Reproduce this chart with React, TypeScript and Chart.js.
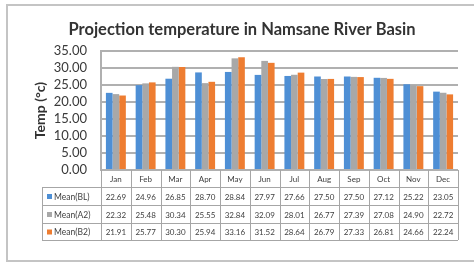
import React, { useEffect, useRef } from "react";
import { Chart, registerables } from "chart.js";

Chart.register(...registerables);

const categories = ["Jan", "Feb", "Mar", "Apr", "May", "Jun", "Jul", "Aug", "Sep", "Oct", "Nov", "Dec"];
const seriesNames = ["Mean(BL)", "Mean(A2)", "Mean(B2)"];
const meanBL = [22.69, 24.96, 26.85, 28.7, 28.84, 27.97, 27.66, 27.5, 27.5, 27.12, 25.22, 23.05];
const meanA2 = [22.32, 25.48, 30.34, 25.55, 32.84, 32.09, 28.01, 26.77, 27.39, 27.08, 24.9, 22.72];
const meanB2 = [21.91, 25.77, 30.3, 25.94, 33.16, 31.52, 28.64, 26.79, 27.33, 26.81, 24.66, 22.24];
const seriesColors = ["#4e8fd5", "#a8a8a8", "#ee7d31"];
const titleText = "Projection temperature in Namsane River Basin";
const yTitle = "Temp (°c)";

const FONT = "Lato, 'Open Sans', sans-serif";

export default function App() {
  const ref = useRef<HTMLCanvasElement | null>(null);

  useEffect(() => {
    document.body.style.margin = "0";
    const canvas = ref.current;
    if (!canvas) return;
    const values = [meanBL, meanA2, meanB2];

    const decor = {
      id: "decor",
      beforeDraw(chart: any) {
        const ctx = chart.ctx;
        ctx.save();
        ctx.fillStyle = "#ffffff";
        ctx.fillRect(0, 0, chart.width, chart.height);
        ctx.strokeStyle = "#c4c4c4";
        ctx.lineWidth = 2;
        ctx.strokeRect(7, 5, 480, 256);
        ctx.restore();
      },
      afterDraw(chart: any) {
        const ctx = chart.ctx;
        const ca = chart.chartArea;
        const xs = chart.scales.x;
        const n = categories.length;
        const cw = (ca.right - ca.left) / n;
        ctx.save();
        // title
        ctx.fillStyle = "#333333";
        ctx.font = `bold 16.5px ${FONT}`;
        ctx.textAlign = "center";
        ctx.textBaseline = "middle";
        ctx.fillText(titleText, 242, 30);

        // table
        const top = Math.round(ca.bottom);
        const rows = [top, top + 17, top + 35, top + 53, top + 70];
        const tableLeft = 42;
        ctx.strokeStyle = "#a6a6a6";
        ctx.lineWidth = 1;
        ctx.beginPath();
        for (let r = 1; r < rows.length; r++) {
          ctx.moveTo(tableLeft, rows[r] + 0.5);
          ctx.lineTo(ca.right, rows[r] + 0.5);
        }
        for (let i = 0; i <= n; i++) {
          const x = Math.round(ca.left + i * cw) + 0.5;
          ctx.moveTo(x, rows[0]);
          ctx.lineTo(x, rows[4]);
        }
        ctx.moveTo(tableLeft + 0.5, rows[1]);
        ctx.lineTo(tableLeft + 0.5, rows[4]);
        ctx.stroke();

        ctx.fillStyle = "#404040";
        ctx.textAlign = "center";
        ctx.font = `8px ${FONT}`;
        categories.forEach((c, i) => {
          const x = xs.getPixelForValue(i);
          ctx.fillText(c, x, (rows[0] + rows[1]) / 2 + 1);
        });
        for (let s = 0; s < 3; s++) {
          const yc = (rows[s + 1] + rows[s + 2]) / 2 + 1;
          ctx.font = `8px ${FONT}`;
          ctx.textAlign = "center";
          ctx.fillStyle = "#404040";
          values[s].forEach((v, i) => {
            ctx.fillText(v.toFixed(2), xs.getPixelForValue(i), yc);
          });
          ctx.fillStyle = seriesColors[s];
          ctx.fillRect(47, yc - 3, 5, 5);
          ctx.fillStyle = "#404040";
          ctx.textAlign = "left";
          ctx.font = `8.5px ${FONT}`;
          ctx.fillText(seriesNames[s], 54, yc);
        }
        ctx.restore();
      },
    };

    const chart = new Chart(canvas, {
      type: "bar",
      data: {
        labels: categories,
        datasets: seriesNames.map((name, s) => ({
          label: name,
          data: values[s],
          backgroundColor: seriesColors[s],
          borderWidth: 0,
          categoryPercentage: 0.67,
          barPercentage: 1.0,
        })),
      },
      options: {
        animation: false,
        responsive: false,
        maintainAspectRatio: false,
        layout: { padding: { top: 51, left: 0, right: 16, bottom: 94 } },
        plugins: {
          legend: { display: false },
          title: { display: false },
          tooltip: { enabled: false },
        },
        scales: {
          x: { display: false },
          y: {
            min: 0,
            max: 35,
            ticks: {
              stepSize: 5,
              autoSkip: false,
              padding: 14,
              color: "#3a3a3a",
              font: { family: FONT, size: 13 },
              callback: (v: any) => Number(v).toFixed(2),
            },
            grid: { color: "#b0b0b0", lineWidth: 2, drawTicks: false },
            border: { display: true, color: "#b0b0b0", width: 2 },
            title: {
              display: true,
              text: yTitle,
              color: "#333333",
              font: { family: FONT, size: 14, weight: "bold" },
              padding: { top: 31.6, bottom: 0 },
            },
            afterFit: (scale: any) => {
              scale.width = 101;
            },
          },
        },
      },
      plugins: [decor],
    });
    return () => chart.destroy();
  }, []);

  return (
    <div style={{ position: "fixed", left: 0, top: 0, width: 474, height: 264 }}>
      <canvas ref={ref} width={474} height={264} style={{ width: 474, height: 264 }} />
    </div>
  );
}
